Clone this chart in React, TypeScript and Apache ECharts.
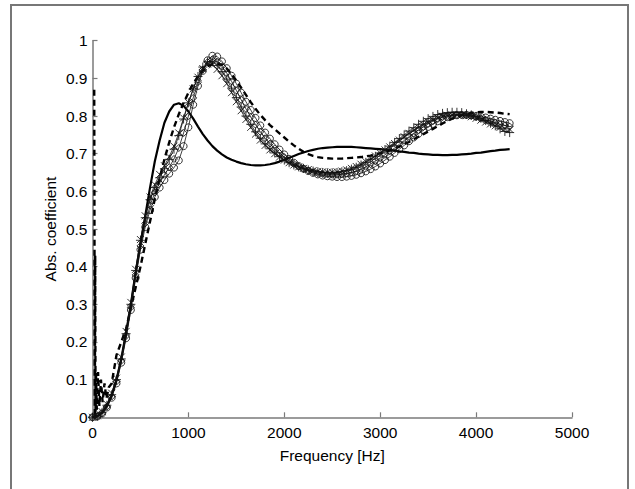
import React, { useEffect, useRef } from "react";
import * as echarts from "echarts";

const FREQ = [
  0, 50, 100, 150, 200, 250, 300, 350, 400, 450,
  500, 550, 600, 650, 700, 750, 800, 850, 900, 950,
  1000, 1050, 1100, 1150, 1200, 1250, 1300, 1350, 1400, 1450,
  1500, 1550, 1600, 1650, 1700, 1750, 1800, 1850, 1900, 1950,
  2000, 2050, 2100, 2150, 2200, 2250, 2300, 2350, 2400, 2450,
  2500, 2550, 2600, 2650, 2700, 2750, 2800, 2850, 2900, 2950,
  3000, 3050, 3100, 3150, 3200, 3250, 3300, 3350, 3400, 3450,
  3500, 3550, 3600, 3650, 3700, 3750, 3800, 3850, 3900, 3950,
  4000, 4050, 4100, 4150, 4200, 4250, 4300, 4350,
];

const SOLID = [
  0, 0.003, 0.012, 0.03, 0.058, 0.1, 0.155, 0.225, 0.3, 0.385,
  0.46, 0.535, 0.61, 0.68, 0.735, 0.782, 0.812, 0.83, 0.834, 0.827,
  0.812, 0.793, 0.772, 0.752, 0.735, 0.72, 0.708, 0.698, 0.69, 0.684,
  0.679, 0.675, 0.672, 0.67, 0.669, 0.669, 0.67, 0.672, 0.675, 0.679,
  0.684, 0.689, 0.694, 0.699, 0.703, 0.707, 0.71, 0.713, 0.715, 0.716,
  0.717, 0.718, 0.718, 0.718, 0.718, 0.717, 0.716, 0.715, 0.714, 0.713,
  0.712, 0.711, 0.709, 0.708, 0.706, 0.705, 0.703, 0.702, 0.7, 0.699,
  0.698, 0.697, 0.697, 0.696, 0.696, 0.697, 0.697, 0.698, 0.699, 0.7,
  0.702, 0.703, 0.705, 0.707, 0.708, 0.71, 0.711, 0.712,
];

const CIRCLE = [
  0, 0.002, 0.01, 0.026, 0.052, 0.09, 0.145, 0.21, 0.285, 0.37,
  0.445, 0.505, 0.55, 0.585, 0.61, 0.63, 0.647, 0.663, 0.682, 0.72,
  0.77, 0.83, 0.88, 0.92, 0.948, 0.96, 0.958, 0.945, 0.927, 0.907,
  0.886, 0.862, 0.838, 0.816, 0.795, 0.775, 0.756, 0.74, 0.725, 0.711,
  0.698, 0.686, 0.676, 0.667, 0.66, 0.654, 0.649, 0.645, 0.642, 0.64,
  0.639, 0.638, 0.638, 0.639, 0.641, 0.644, 0.648, 0.653, 0.659, 0.666,
  0.674, 0.683, 0.692, 0.702, 0.712, 0.722, 0.733, 0.743, 0.753, 0.762,
  0.771, 0.779, 0.786, 0.792, 0.797, 0.8, 0.802, 0.803, 0.803, 0.802,
  0.8, 0.798, 0.796, 0.793, 0.79, 0.787, 0.784, 0.781,
];

const PLUS = [
  0, 0.003, 0.013, 0.032, 0.06, 0.1, 0.155, 0.222, 0.3, 0.39,
  0.47, 0.53, 0.578, 0.61, 0.636, 0.66, 0.685, 0.712, 0.748, 0.792,
  0.835, 0.872, 0.905, 0.93, 0.944, 0.944, 0.934, 0.918, 0.898, 0.874,
  0.849, 0.824, 0.8, 0.778, 0.758, 0.741, 0.726, 0.713, 0.702, 0.692,
  0.683, 0.676, 0.67, 0.665, 0.661, 0.657, 0.654, 0.652, 0.65, 0.649,
  0.649, 0.65, 0.652, 0.655, 0.659, 0.664, 0.67, 0.677, 0.685, 0.693,
  0.702, 0.711, 0.72, 0.73, 0.74, 0.75, 0.76, 0.769, 0.778, 0.786,
  0.793, 0.799, 0.804, 0.807, 0.809, 0.81, 0.81, 0.809, 0.806, 0.803,
  0.799, 0.794, 0.788, 0.781, 0.774, 0.766, 0.759, 0.756,
];

const CROSS = [
  0, 0.004, 0.015, 0.035, 0.064, 0.104, 0.16, 0.228, 0.305, 0.393,
  0.472, 0.535, 0.585, 0.618, 0.645, 0.668, 0.692, 0.72, 0.755, 0.795,
  0.836, 0.872, 0.903, 0.926, 0.938, 0.936, 0.924, 0.907, 0.886, 0.862,
  0.838, 0.814, 0.791, 0.77, 0.752, 0.736, 0.722, 0.71, 0.7, 0.691,
  0.683, 0.676, 0.67, 0.665, 0.661, 0.658, 0.655, 0.653, 0.652, 0.651,
  0.651, 0.652, 0.654, 0.657, 0.661, 0.666, 0.672, 0.679, 0.686, 0.694,
  0.702, 0.71, 0.718, 0.727, 0.736, 0.745, 0.754, 0.762, 0.77, 0.777,
  0.784, 0.79, 0.795, 0.799, 0.802, 0.803, 0.804, 0.803, 0.801, 0.798,
  0.794, 0.789, 0.784, 0.779, 0.774, 0.77, 0.767, 0.765,
];

const DIAMOND = [
  0, 0.002, 0.011, 0.028, 0.055, 0.095, 0.15, 0.216, 0.292, 0.378,
  0.455, 0.515, 0.562, 0.597, 0.622, 0.644, 0.664, 0.686, 0.715, 0.755,
  0.8, 0.848, 0.89, 0.923, 0.943, 0.95, 0.945, 0.932, 0.914, 0.892,
  0.868, 0.843, 0.819, 0.797, 0.777, 0.758, 0.741, 0.727, 0.714, 0.702,
  0.691, 0.681, 0.673, 0.666, 0.66, 0.655, 0.651, 0.648, 0.646, 0.645,
  0.644, 0.644, 0.645, 0.647, 0.65, 0.654, 0.659, 0.665, 0.672, 0.68,
  0.688, 0.697, 0.706, 0.715, 0.725, 0.735, 0.745, 0.754, 0.763, 0.771,
  0.779, 0.786, 0.792, 0.797, 0.8, 0.802, 0.803, 0.803, 0.802, 0.8,
  0.797, 0.794, 0.79, 0.786, 0.782, 0.778, 0.775, 0.772,
];

const DASH_FREQ = [
  18, 24, 28, 32, 36, 45, 58, 72, 88, 105, 125, 145, 170, 200, 250,
  300, 350, 400, 450, 500, 550, 600, 650, 700, 750,
  800, 850, 900, 950, 1000, 1050, 1100, 1150, 1200, 1250,
  1300, 1350, 1400, 1450, 1500, 1550, 1600, 1650, 1700, 1750,
  1800, 1850, 1900, 1950, 2000, 2050, 2100, 2150, 2200, 2250,
  2300, 2350, 2400, 2450, 2500, 2550, 2600, 2650, 2700, 2750,
  2800, 2850, 2900, 2950, 3000, 3050, 3100, 3150, 3200, 3250,
  3300, 3350, 3400, 3450, 3500, 3550, 3600, 3650, 3700, 3750,
  3800, 3850, 3900, 3950, 4000, 4050, 4100, 4150, 4200, 4250,
  4300, 4350,
];

const DASH_VALUES = [
  0.87, 0, 0.43, 0, 0.12, 0.02, 0.12, 0.03, 0.1, 0.04, 0.09, 0.05, 0.08, 0.09, 0.165,
  0.2, 0.235, 0.29, 0.345, 0.4, 0.46, 0.52, 0.58, 0.635, 0.685,
  0.73, 0.77, 0.805, 0.835, 0.862, 0.886, 0.905, 0.92, 0.932, 0.938,
  0.94, 0.936, 0.926, 0.911, 0.894, 0.875, 0.856, 0.837, 0.819, 0.803,
  0.789, 0.776, 0.765, 0.754, 0.743, 0.732, 0.722, 0.713, 0.705, 0.699,
  0.694, 0.691, 0.689, 0.688, 0.687, 0.687, 0.687, 0.688, 0.689, 0.69,
  0.691, 0.693, 0.695, 0.698, 0.701, 0.705, 0.709, 0.714, 0.719, 0.725,
  0.731, 0.738, 0.745, 0.752, 0.759, 0.766, 0.773, 0.78, 0.787, 0.793,
  0.798, 0.802, 0.805, 0.808, 0.81, 0.811, 0.811, 0.81, 0.809, 0.808,
  0.806, 0.805,
];

const X_TITLE = "Frequency [Hz]";
const Y_TITLE = "Abs. coefficient";

const FONT = "'Liberation Sans', Arial, Helvetica, sans-serif";
const AXIS_GRAY = "#7a7a7a";

const pair = (xs: number[], ys: number[]) => xs.map((x, i) => [x, ys[i]]);

const PLUS_PATH = "path://M5,0L5,10M0,5L10,5";
const CROSS_PATH = "path://M0,0L10,10M10,0L0,10";

export default function App() {
  const ref = useRef<HTMLDivElement>(null);

  useEffect(() => {
    if (!ref.current) return;
    const chart = echarts.init(ref.current, undefined, { renderer: "svg" });

    const markerSeries = (data: number[], symbol: string, size: number) => ({
      type: "line",
      data: pair(FREQ, data),
      symbol,
      symbolSize: size,
      showAllSymbol: true,
      lineStyle: { color: "#111", width: 0.8 },
      itemStyle: { color: "rgba(0,0,0,0)", borderColor: "#111", borderWidth: 0.85 },
      z: 3,
    });

    chart.setOption({
      animation: false,
      backgroundColor: "#fff",
      textStyle: { fontFamily: FONT },
      graphic: [
        {
          type: "rect",
          shape: { x: 11, y: 5, width: 617, height: 520 },
          style: { fill: "none", stroke: "#777", lineWidth: 2 },
          silent: true,
          z: -1,
        },
      ],
      grid: { left: 92.5, top: 40.7, right: 63, bottom: 71.7, containLabel: false },
      xAxis: {
        type: "value",
        min: 0,
        max: 5000,
        interval: 1000,
        name: X_TITLE,
        nameLocation: "middle",
        nameGap: 30,
        nameMoveOverlap: false,
        nameTextStyle: { fontSize: 15.5, color: "#000", fontFamily: FONT },
        axisLine: { show: true, lineStyle: { color: AXIS_GRAY, width: 1.5 } },
        axisTick: { show: true, inside: true, length: 5, lineStyle: { color: AXIS_GRAY, width: 1.2 } },
        axisLabel: {
          color: "#000",
          fontSize: 15.5,
          margin: 7,
          fontFamily: FONT,
          formatter: (v: number) => String(v),
        },
        splitLine: { show: false },
      },
      yAxis: {
        type: "value",
        min: 0,
        max: 1,
        interval: 0.1,
        name: Y_TITLE,
        nameLocation: "middle",
        nameGap: 34,
        nameMoveOverlap: false,
        nameTextStyle: { fontSize: 15.5, color: "#000", fontFamily: FONT },
        axisLine: { show: true, lineStyle: { color: AXIS_GRAY, width: 1.5 } },
        axisTick: { show: true, inside: true, length: 5, lineStyle: { color: AXIS_GRAY, width: 1.2 } },
        axisLabel: {
          color: "#000",
          fontSize: 15.5,
          margin: 5,
          fontFamily: FONT,
          formatter: (v: number) => String(Math.round(v * 10) / 10),
        },
        splitLine: { show: false },
      },
      series: [
        {
          type: "line",
          data: pair(FREQ, SOLID),
          showSymbol: false,
          symbol: "none",
          lineStyle: { color: "#000", width: 2.2 },
          z: 2,
        },
        {
          type: "line",
          data: pair(DASH_FREQ, DASH_VALUES),
          showSymbol: false,
          symbol: "none",
          lineStyle: { color: "#000", width: 2.4, type: [6, 4] },
          z: 2,
        },
        markerSeries(CIRCLE, "circle", 7),
        markerSeries(PLUS, PLUS_PATH, 9),
        markerSeries(CROSS, CROSS_PATH, 7),
        markerSeries(DIAMOND, "diamond", 7),
      ],
    });

    return () => chart.dispose();
  }, []);

  return (
    <div
      ref={ref}
      style={{ position: "fixed", left: 0, top: 0, width: 635, height: 489, background: "#fff" }}
    />
  );
}
